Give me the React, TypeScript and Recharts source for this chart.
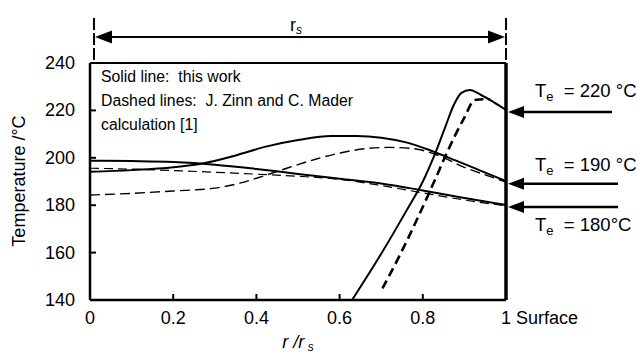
import { LineChart, Line, XAxis, YAxis, ReferenceLine } from "recharts";

const xTicks = [0, 0.2, 0.4, 0.6, 0.8, 1];
const yTicks = [140, 160, 180, 200, 220, 240];

// solid lines (this work)
const solid190X = [0, 0.1, 0.2, 0.27, 0.35, 0.42, 0.5, 0.58, 0.64, 0.7, 0.76, 0.82, 0.88, 0.94, 1];
const solid190T = [194.1, 194.8, 196, 197.6, 201, 204.6, 207.5, 209.2, 209.2, 208.5, 206.5, 203, 198.8, 194.5, 190.2];

const solid180X = [0, 0.1, 0.2, 0.3, 0.4, 0.5, 0.6, 0.7, 0.8, 0.9, 1];
const solid180T = [198.8, 198.6, 198.2, 197.1, 195.3, 193.2, 191.2, 189.2, 186.2, 183, 180.1];

const solid220X = [0.63, 0.7, 0.76, 0.8, 0.83, 0.855, 0.875, 0.893, 0.913, 0.94, 0.97, 1];
const solid220T = [140, 159.5, 177.5, 190, 202, 213.5, 222.5, 227.4, 228.6, 226.5, 223.5, 220.2];

// dashed lines (Zinn & Mader)
const zinn180X = [0, 0.1, 0.2, 0.3, 0.4, 0.5, 0.6, 0.7, 0.8, 0.9, 1];
const zinn180T = [195.6, 195.2, 194.6, 193.9, 193.1, 192.2, 190.9, 188.3, 185.2, 182.2, 179.7];

const zinn190X = [0, 0.1, 0.2, 0.3, 0.36, 0.42, 0.48, 0.54, 0.6, 0.66, 0.72, 0.78, 0.84, 0.9, 0.95, 1];
const zinn190T = [184.3, 185, 186, 187.2, 189.3, 192.5, 196, 199.3, 202, 203.8, 204.4, 203.8, 200.8, 196, 192.8, 189.8];

const zinn220X = [0.703, 0.745, 0.79, 0.83, 0.855, 0.875, 0.9, 0.925, 0.95, 0.962];
const zinn220T = [144.9, 159, 175.5, 191, 201, 208.5, 217, 224.4, 224.7, 224.7];

// T_e labels on the right
const teLabels = ["220", "190", "180"];
const teArrowT = [219.3, 189, 179.2];

const toPoints = (xs: number[], ts: number[]) => xs.map((x, i) => ({ x, t: ts[i] }));

const FONT = "Arial, 'Liberation Sans', sans-serif";
const PLOT = { left: 90, right: 506, top: 63, bottom: 300 };
const py = (t: number) => PLOT.top + ((240 - t) * (PLOT.bottom - PLOT.top)) / 100;
const pre = { whiteSpace: "pre" } as const;

function XTick({ x, y, payload }: any) {
  return (
    <g>
      <line x1={x} x2={x} y1={y} y2={y - 6} stroke="#000" strokeWidth={2} />
      <text x={x} y={y + 24} textAnchor="middle" fontSize={18} fontFamily={FONT} fill="#000">
        {payload.value}
      </text>
      {payload.value === 1 && (
        <text x={x + 10} y={y + 24} fontSize={18} fontFamily={FONT} fill="#000">
          Surface
        </text>
      )}
    </g>
  );
}

function YTick({ x, y, payload }: any) {
  return (
    <g>
      <line x1={x} x2={x + 6} y1={y} y2={y} stroke="#000" strokeWidth={2} />
      <text x={x - 15} y={y + 6} textAnchor="end" fontSize={18} fontFamily={FONT} fill="#000">
        {payload.value}
      </text>
    </g>
  );
}

function Annotations() {
  return (
    <svg
      width={640}
      height={353}
      style={{ position: "absolute", left: 0, top: 0, pointerEvents: "none" }}
      fontFamily={FONT}
    >
      {/* r_s span */}
      <line x1={94} x2={94} y1={18} y2={63} stroke="#000" strokeWidth={2} strokeDasharray="12 3" />
      <line x1={506} x2={506} y1={18} y2={63} stroke="#000" strokeWidth={2} strokeDasharray="12 3" />
      <line x1={110} x2={490} y1={37} y2={37} stroke="#000" strokeWidth={2} />
      <polygon points="95,37 112,30.5 112,43.5" fill="#000" />
      <polygon points="505,37 488,30.5 488,43.5" fill="#000" />
      <text x={290} y={31} fontSize={18} fill="#000">
        r<tspan fontSize={12} fontStyle="italic" dy={3}>s</tspan>
      </text>

      {/* legend text */}
      <text x={101} y={82} fontSize={15.8} fill="#000" style={pre}>{"Solid line:  this work"}</text>
      <text x={101} y={106} fontSize={15.8} fill="#000" style={pre}>{"Dashed lines:  J. Zinn and C. Mader"}</text>
      <text x={101} y={130} fontSize={15.8} fill="#000" style={pre}>{"calculation [1]"}</text>

      {/* T_e arrows */}
      {teArrowT.map((t, i) => {
        const y = py(t);
        const end = i === 0 ? 612 : 618;
        return (
          <g key={i}>
            <line x1={520} x2={end} y1={y} y2={y} stroke="#000" strokeWidth={2.5} />
            <polygon points={`508,${y} 524,${y - 6} 524,${y + 6}`} fill="#000" />
          </g>
        );
      })}
      {teLabels.map((lab, i) => {
        const y = i === 0 ? 97 : i === 1 ? 171 : 231;
        return (
          <text key={lab} x={535} y={y} fontSize={18.5} fill="#000" style={pre}>
            T<tspan fontSize={13} dy={4}>e</tspan>
            <tspan dy={-4}>{i === 2 ? "  = " + lab + "°C" : "  = " + lab + " °C"}</tspan>
          </text>
        );
      })}

      {/* axis titles */}
      <text
        x={0}
        y={0}
        fontSize={18}
        fill="#000"
        textAnchor="middle"
        transform="translate(25,181) rotate(-90)"
      >
        Temperature /°C
      </text>
      <text x={298} y={348} fontSize={18} fill="#000" fontStyle="italic" textAnchor="middle" style={pre}>
        r /r<tspan fontSize={12} dy={3}> s</tspan>
      </text>
    </svg>
  );
}

export default function App() {
  return (
    <div style={{ position: "absolute", left: 0, top: 0, width: 640, height: 353, fontFamily: FONT, background: "#fff" }}>
      <LineChart width={640} height={353} margin={{ top: 63, right: 134, bottom: 0, left: 0 }}>
        <XAxis
          dataKey="x"
          type="number"
          domain={[0, 1]}
          ticks={xTicks}
          allowDataOverflow
          height={53}
          tickSize={0}
          tickMargin={0}
          tick={<XTick />}
          axisLine={{ stroke: "#000", strokeWidth: 2.5 }}
          tickLine={false}
        />
        <YAxis
          type="number"
          domain={[140, 240]}
          ticks={yTicks}
          allowDataOverflow
          width={90}
          tickSize={0}
          tickMargin={0}
          tick={<YTick />}
          axisLine={{ stroke: "#000", strokeWidth: 2.5 }}
          tickLine={false}
        />
        <ReferenceLine y={240} stroke="#000" strokeWidth={2} />
        <ReferenceLine x={1} stroke="#000" strokeWidth={3.5} />

        <Line data={toPoints(zinn180X, zinn180T)} dataKey="t" type="monotone" stroke="#000" strokeWidth={1.2} strokeDasharray="9 5" dot={false} isAnimationActive={false} />
        <Line data={toPoints(zinn190X, zinn190T)} dataKey="t" type="monotone" stroke="#000" strokeWidth={1.4} strokeDasharray="10 5" dot={false} isAnimationActive={false} />
        <Line data={toPoints(zinn220X, zinn220T)} dataKey="t" type="monotone" stroke="#000" strokeWidth={2.6} strokeDasharray="9 5" dot={false} isAnimationActive={false} />
        <Line data={toPoints(solid190X, solid190T)} dataKey="t" type="monotone" stroke="#000" strokeWidth={2} dot={false} isAnimationActive={false} />
        <Line data={toPoints(solid180X, solid180T)} dataKey="t" type="monotone" stroke="#000" strokeWidth={2} dot={false} isAnimationActive={false} />
        <Line data={toPoints(solid220X, solid220T)} dataKey="t" type="monotone" stroke="#000" strokeWidth={2} dot={false} isAnimationActive={false} />
      </LineChart>
      <Annotations />
    </div>
  );
}
